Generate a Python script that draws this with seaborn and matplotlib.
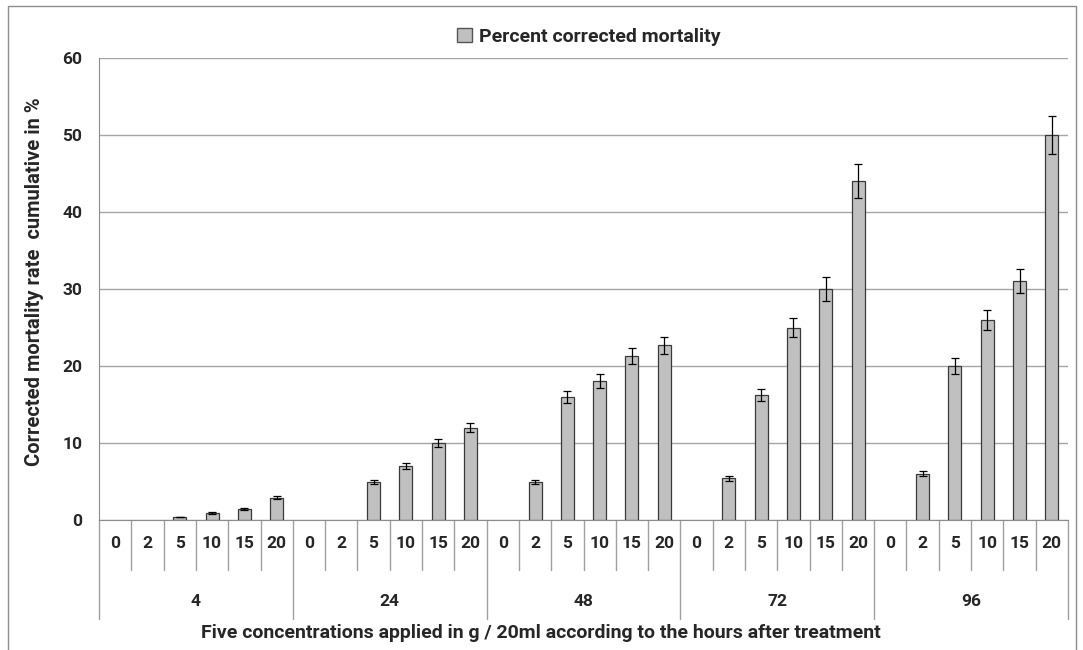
import matplotlib
matplotlib.use("Agg")
import matplotlib.pyplot as plt
import matplotlib.transforms as mtransforms
from matplotlib.patches import Patch
import seaborn as sns
import pandas as pd
import numpy as np

# ---- data ----
hours = ["4", "24", "48", "72", "96"]
concentrations = ["0", "2", "5", "10", "15", "20"]
mort_4 = [0, 0, 0.4, 0.9, 1.4, 2.9]
mort_24 = [0, 0, 4.9, 7.0, 10.0, 12.0]
mort_48 = [0, 4.9, 16.0, 18.0, 21.3, 22.7]
mort_72 = [0, 5.4, 16.2, 25.0, 30.0, 44.0]
mort_96 = [0, 6.0, 20.0, 26.0, 31.0, 50.0]
err_4 = [0, 0, 0.05, 0.08, 0.12, 0.18]
err_24 = [0, 0, 0.25, 0.35, 0.5, 0.6]
err_48 = [0, 0.25, 0.8, 0.9, 1.05, 1.1]
err_72 = [0, 0.3, 0.8, 1.25, 1.5, 2.2]
err_96 = [0, 0.3, 1.0, 1.3, 1.55, 2.5]
series_name = "Percent corrected mortality"
y_label = "Corrected mortality rate  cumulative in %"
x_label = "Five concentrations applied in g / 20ml according to the hours after treatment"

all_mort = [mort_4, mort_24, mort_48, mort_72, mort_96]
all_err = [err_4, err_24, err_48, err_72, err_96]
rows = []
for h, m, e in zip(hours, all_mort, all_err):
    for c, v, ev in zip(concentrations, m, e):
        rows.append({"key": f"{h}|{c}", "hour": h, "conc": c, "value": v, "err": ev})
df = pd.DataFrame(rows)

# ---- style ----
sns.set_style("white")
FONT = ["Roboto", "DejaVu Sans"]
plt.rcParams["font.family"] = FONT
plt.rcParams["font.weight"] = "bold"

BAR = "#C0C0C0"
EDGE = "#3a3a3a"
W, H = 1083, 650
fig = plt.figure(figsize=(W / 100, H / 100), dpi=100)
ax = fig.add_axes([99 / W, 1 - 520 / H, (1068 - 99) / W, (520 - 58) / H])

sns.barplot(data=df, x="key", y="value", order=list(df["key"]), color=BAR,
            edgecolor=EDGE, linewidth=0.9, width=0.4, saturation=1,
            errorbar=None, ax=ax)
for p in ax.patches:
    if p.get_height() == 0:
        p.set_visible(False)
xpos = np.arange(len(df))
mask = (df["value"] > 0).to_numpy()
ax.errorbar(xpos[mask], df["value"][mask], yerr=df["err"][mask], fmt="none",
            ecolor="black", elinewidth=0.9, capsize=3, capthick=0.9)

ax.set_xlim(-0.5, len(df) - 0.5)
ax.set_ylim(0, 60)
ax.set_yticks(range(0, 61, 10))
ax.yaxis.grid(True, color="#A6A6A6", linewidth=1)
ax.set_axisbelow(True)
for s in ["top", "right"]:
    ax.spines[s].set_visible(False)
ax.spines["left"].set_color("#8C8C8C")
ax.spines["bottom"].set_color("#8C8C8C")
ax.tick_params(axis="y", length=4, color="#8C8C8C", labelsize=12.5, pad=8)
for t in ax.get_yticklabels():
    t.set_fontweight("bold")
ax.set_xticks([])
ax.set_xlabel("")
ax.set_ylabel(y_label, fontsize=14.5, fontweight="bold")
ax.yaxis.set_label_coords((44 - 99) / (1068 - 99), (520 - 282) / (520 - 58))

# ---- multi-level x-axis table ----
trans = mtransforms.blended_transform_factory(ax.transData, ax.transAxes)
px = 1 / (520 - 58)
row1 = -(570 - 520) * px
row2 = -(619 - 520) * px
for i in range(len(df) + 1):
    x = i - 0.5
    bottom = row2 if i % 6 == 0 else row1
    ax.plot([x, x], [0, bottom], transform=trans, color="#A0A0A0", lw=1,
            clip_on=False)
for i, c in enumerate(df["conc"]):
    ax.text(i, -(543 - 520) * px, c, transform=trans, ha="center", va="center",
            fontsize=12.5, fontweight="bold")
for g, h in enumerate(hours):
    ax.text(g * 6 + 2.5, -(602 - 520) * px, h, transform=trans, ha="center",
            va="center", fontsize=12.5, fontweight="bold")
fig.text(541 / W, 1 - 633 / H, x_label, ha="center", va="center",
         fontsize=14, fontweight="bold")

handle = Patch(facecolor=BAR, edgecolor="#555555", linewidth=1)
leg = ax.legend([handle], [series_name], loc="center",
                bbox_to_anchor=(589 / W, 1 - 37 / H),
                bbox_transform=fig.transFigure, frameon=False,
                prop={"weight": "bold", "size": 14}, handlelength=0.75,
                handleheight=0.75, handletextpad=0.4)

# outer chart border
fig.patches.append(plt.Rectangle((8 / W, -0.01), (1076 - 8) / W, 1 - 6 / H + 0.01,
                                 transform=fig.transFigure, fill=False,
                                 edgecolor="#8C8C8C", lw=1))

fig.savefig("out.png", dpi=100)
